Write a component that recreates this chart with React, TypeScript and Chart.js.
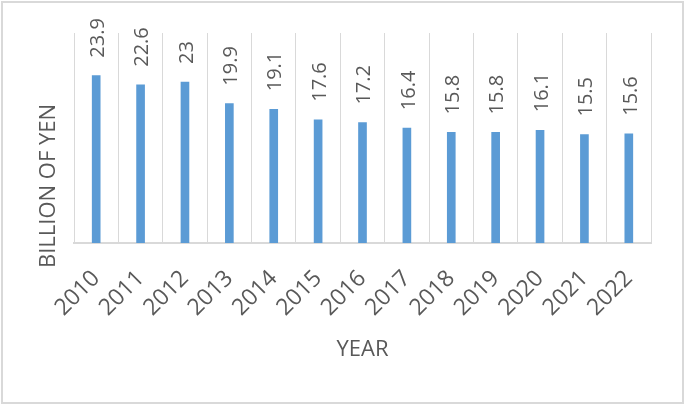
import React, { useEffect, useRef } from "react";
import { Chart, registerables } from "chart.js";

Chart.register(...registerables);

const categories: string[] = ["2010", "2011", "2012", "2013", "2014", "2015", "2016", "2017", "2018", "2019", "2020", "2021", "2022"];
const values: number[] = [23.9, 22.6, 23, 19.9, 19.1, 17.6, 17.2, 16.4, 15.8, 15.8, 16.1, 15.5, 15.6];
const valueLabels: string[] = ["23.9", "22.6", "23", "19.9", "19.1", "17.6", "17.2", "16.4", "15.8", "15.8", "16.1", "15.5", "15.6"];
const yAxisTitle = "BILLION OF YEN";
const xAxisTitle = "YEAR";

const TEXT = "#595959";
const GRID = "#d9d9d9";
const FONT = "'Open Sans', 'DejaVu Sans', sans-serif";

const decorPlugin = {
  id: "decor",
  beforeDraw(chart: any) {
    const ctx = chart.ctx;
    ctx.save();
    ctx.fillStyle = "#ffffff";
    ctx.fillRect(0, 0, chart.width, chart.height);
    ctx.strokeStyle = GRID;
    ctx.lineWidth = 2;
    ctx.strokeRect(2, 2, chart.width - 4, chart.height - 3);
    ctx.restore();
  },
  afterDraw(chart: any) {
    const ctx = chart.ctx;
    ctx.save();
    ctx.fillStyle = TEXT;
    ctx.font = `22px ${FONT}`;
    ctx.textAlign = "center";
    ctx.textBaseline = "middle";
    ctx.translate(49, 186);
    ctx.rotate(-Math.PI / 2);
    ctx.fillText(yAxisTitle, 0, 0);
    ctx.restore();
  },
  afterDatasetsDraw(chart: any) {
    const ctx = chart.ctx;
    const meta = chart.getDatasetMeta(0);
    ctx.save();
    ctx.fillStyle = TEXT;
    ctx.font = `20px ${FONT}`;
    ctx.textAlign = "left";
    ctx.textBaseline = "middle";
    meta.data.forEach((bar: any, i: number) => {
      ctx.save();
      ctx.translate(bar.x + 2, bar.y - 18);
      ctx.rotate(-Math.PI / 2);
      ctx.fillText(valueLabels[i], 0, 0);
      ctx.restore();
    });
    ctx.restore();
  },
};

export default function App() {
  const ref = useRef<HTMLCanvasElement | null>(null);
  useEffect(() => {
    document.body.style.margin = "0";
    const canvas = ref.current;
    if (!canvas) return;
    const chart = new Chart(canvas, {
      type: "bar",
      data: {
        labels: categories,
        datasets: [
          {
            data: values,
            backgroundColor: "#5b9bd5",
            borderWidth: 0,
            barThickness: 8,
          },
        ],
      },
      options: {
        responsive: false,
        animation: false,
        devicePixelRatio: 1,
        layout: { padding: { left: 0, top: 33, right: 34, bottom: 0 } },
        plugins: { legend: { display: false }, tooltip: { enabled: false } },
        scales: {
          x: {
            grid: { display: true, color: GRID, lineWidth: 1, drawTicks: false, offset: true },
            border: { display: true, color: GRID, width: 2 },
            ticks: {
              color: TEXT,
              font: { family: FONT, size: 23 },
              minRotation: 45,
              maxRotation: 45,
              padding: 22,
              autoSkip: false,
            },
            title: {
              display: true,
              text: xAxisTitle,
              color: TEXT,
              font: { family: FONT, size: 22 },
              padding: { top: 0, bottom: 41 },
            },
            afterFit(scale: any) {
              scale.height = 161;
            },
          },
          y: {
            min: 0,
            max: 30,
            grid: { display: false },
            border: { display: false },
            ticks: { display: false },
            afterFit(scale: any) {
              scale.width = 74;
            },
          },
        },
      },
      plugins: [decorPlugin],
    });
    return () => chart.destroy();
  }, []);
  return <canvas ref={ref} width={685} height={404} style={{ display: "block" }} />;
}
